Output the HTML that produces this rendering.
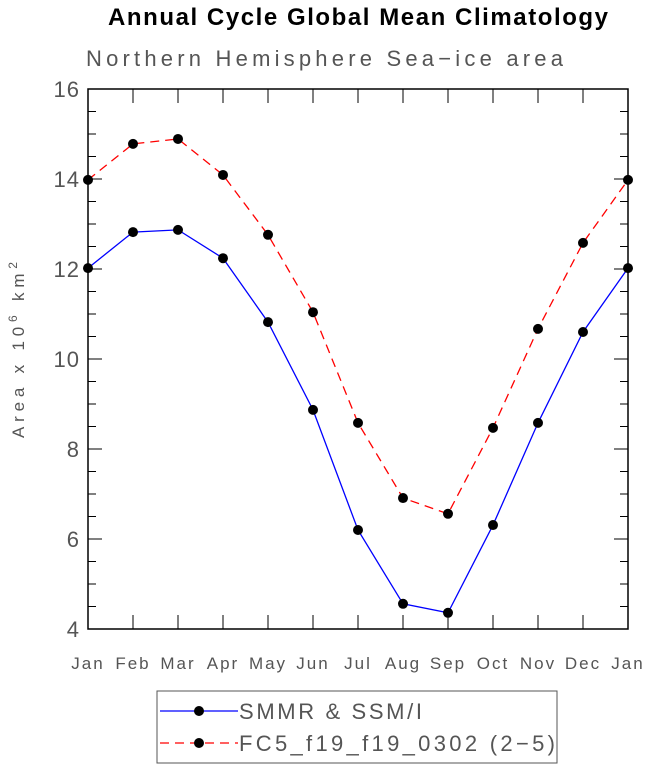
<!DOCTYPE html>
<html><head><meta charset="utf-8"><style>
body{margin:0;background:#fff;width:648px;height:769px;overflow:hidden}
svg{display:block}
text{font-family:"Liberation Sans",sans-serif}
</style></head><body>
<svg id="chart" width="648" height="769" viewBox="0 0 648 769">
<text x="108" y="25" font-size="24" font-weight="bold" fill="#000" textLength="500" lengthAdjust="spacing">Annual Cycle Global Mean Climatology</text>
<text x="86" y="66" font-size="22" fill="#555" textLength="477" lengthAdjust="spacing">Northern Hemisphere Sea−ice area</text>
<text transform="translate(24,438) rotate(-90)" font-size="17" fill="#555" textLength="176" lengthAdjust="spacing">Area x 10<tspan dy="-7" font-size="12">6</tspan><tspan dy="7"> km</tspan><tspan dy="-7" font-size="12">2</tspan></text>
<g id="axes"></g>
<g id="series"></g>
<rect x="157" y="691" width="400" height="72" fill="none" stroke="#555" stroke-width="1"/>
<g>
<line x1="160" y1="711" x2="238" y2="711" stroke="#0000ff" stroke-width="1.3"/>
<circle cx="199" cy="711" r="5" fill="#000"/>
<text x="239" y="719" font-size="22" fill="#555" textLength="183" lengthAdjust="spacing">SMMR &amp; SSM/I</text>
</g>
<g>
<line x1="160" y1="743" x2="238" y2="743" stroke="#ff0000" stroke-width="1.3" stroke-dasharray="9,6"/>
<circle cx="199" cy="743" r="5" fill="#000"/>
<text x="239" y="751" font-size="22" fill="#555" textLength="316" lengthAdjust="spacing">FC5_f19_f19_0302 (2−5)</text>
</g>
</svg>
<script>
const months=["Jan","Feb","Mar","Apr","May","Jun","Jul","Aug","Sep","Oct","Nov","Dec","Jan"];
const obsValues=[12.02,12.82,12.87,12.24,10.82,8.87,6.2,4.56,4.36,6.31,8.58,10.6,12.02];
const modelValues=[13.98,14.78,14.89,14.09,12.76,11.04,8.58,6.91,6.56,8.47,10.67,12.58,13.98];
const yTicks=[4,6,8,10,12,14,16];
const X0=88,X1=628,Y0=89,Y1=629,YMIN=4,YMAX=16;
const xs=i=>X0+(X1-X0)*i/(months.length-1);
const ys=v=>Y1-(v-YMIN)/(YMAX-YMIN)*(Y1-Y0);
const NS="http://www.w3.org/2000/svg";
function mk(tag,attrs,parent){const e=document.createElementNS(NS,tag);for(const k in attrs)e.setAttribute(k,attrs[k]);parent.appendChild(e);return e;}
const ax=document.getElementById('axes');
const frame=mk('rect',{x:X0,y:Y0,width:X1-X0,height:Y1-Y0,fill:'none',stroke:'#000','stroke-width':1.5},ax);


for(let v=YMIN;v<=YMAX+1e-9;v+=0.5){
  const major=Math.abs(v%2)<1e-9;const L=major?14:8;const y=ys(v);
  mk('line',{x1:X0,y1:y,x2:X0+L,y2:y,stroke:'#000'},ax);
  mk('line',{x1:X1,y1:y,x2:X1-L,y2:y,stroke:'#000'},ax);
}
yTicks.forEach(v=>{
  const t=mk('text',{x:X0-8,y:ys(v)+8,'text-anchor':'end','font-size':22,fill:'#555','letter-spacing':1},ax);
  t.textContent=v;
  
  
});
months.forEach((m,i)=>{
  const x=xs(i);
  mk('line',{x1:x,y1:Y1,x2:x,y2:Y1-14,stroke:'#000'},ax);
  mk('line',{x1:x,y1:Y0,x2:x,y2:Y0+14,stroke:'#000'},ax);
  const t=mk('text',{x:x,y:Y1+40,'text-anchor':'middle','font-size':17,fill:'#555','letter-spacing':2},ax);
  t.textContent=m;
  
  
});
const sg=document.getElementById('series');
function series(vals,color,dash,name){
  const g=mk('g',{},sg);
  
  
  const pts=vals.map((v,i)=>xs(i)+','+ys(v)).join(' ');
  const a={points:pts,fill:'none',stroke:color,'stroke-width':1.3};
  if(dash)a['stroke-dasharray']=dash;
  mk('polyline',a,g);
  vals.forEach((v,i)=>{
    const c=mk('circle',{cx:xs(i),cy:ys(v),r:5,fill:'#000'},g);
    
    
  });
}
series(obsValues,'#0000ff',null,'series-smmr');
series(modelValues,'#ff0000','9,6','series-fc5');
</script>
</body></html>
